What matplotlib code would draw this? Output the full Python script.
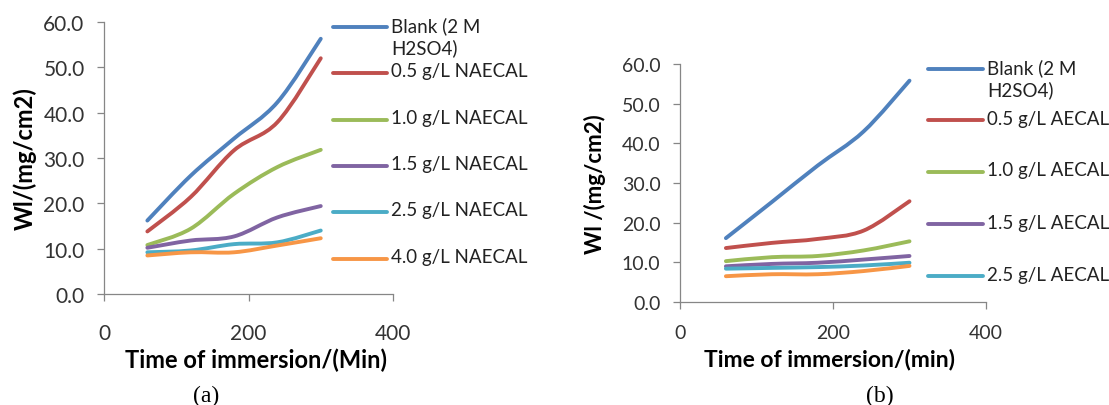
import numpy as np
import matplotlib
matplotlib.use("Agg")
import matplotlib.pyplot as plt
from matplotlib.path import Path
from matplotlib.patches import PathPatch
from matplotlib.lines import Line2D
from matplotlib.ticker import FormatStrFormatter

# data
time_min = [60, 120, 180, 240, 300]

a_blank = [16.2, 26.1, 34.3, 42.3, 56.3]
a_05 = [13.8, 21.4, 31.7, 37.9, 52.0]
a_10 = [10.8, 14.4, 22.1, 28.0, 31.8]
a_15 = [10.2, 11.8, 12.7, 16.9, 19.4]
a_25 = [9.2, 9.6, 11.0, 11.4, 14.0]
a_40 = [8.5, 9.2, 9.2, 10.7, 12.3]

b_blank = [16.1, 25.2, 34.4, 43.0, 55.8]
b_05 = [13.6, 14.9, 15.9, 18.0, 25.4]
b_10 = [10.3, 11.3, 11.6, 13.0, 15.3]
b_15 = [9.0, 9.6, 9.9, 10.7, 11.6]
b_25 = [8.4, 8.6, 8.8, 9.2, 9.9]
b_40 = [6.5, 7.0, 7.0, 7.8, 9.1]

a_labels = ["Blank (2 M\nH2SO4)", "0.5 g/L NAECAL", "1.0 g/L NAECAL",
            "1.5 g/L NAECAL", "2.5 g/L NAECAL", "4.0 g/L NAECAL"]
b_labels = ["Blank (2 M\nH2SO4)", "0.5 g/L AECAL", "1.0 g/L AECAL",
            "1.5 g/L AECAL", "2.5 g/L AECAL"]

colors = ['#4F81BD', '#C0504D', '#9BBB59', '#8064A2', '#4BACC6', '#F79646']

W, H = 1109, 406
FONT = ['Lato', 'DejaVu Sans']
plt.rcParams['font.family'] = FONT


def smooth_line(ax, xs, ys, color):
    # excel-like smoothed line: cubic bezier through the points
    p = np.column_stack([xs, ys]).astype(float)
    n = len(p)
    verts = [p[0]]
    codes = [Path.MOVETO]
    for i in range(n - 1):
        p0 = p[i - 1] if i > 0 else p[i]
        p1 = p[i]
        p2 = p[i + 1]
        p3 = p[i + 2] if i + 2 < n else p[i + 1]
        c1 = p1 + (p2 - p0) / 6.0
        c2 = p2 - (p3 - p1) / 6.0
        verts += [c1, c2, p2]
        codes += [Path.CURVE4] * 3
    patch = PathPatch(Path(verts, codes), fill=False, edgecolor=color,
                      linewidth=2.8, capstyle='round', joinstyle='round')
    ax.add_patch(patch)


def style_axis(ax, tick_size, ypad, xpad):
    ax.set_xlim(0, 400)
    ax.set_ylim(0, 60)
    ax.set_xticks([0, 200, 400])
    ax.set_yticks([0, 10, 20, 30, 40, 50, 60])
    ax.yaxis.set_major_formatter(FormatStrFormatter('%.1f'))
    for s in ['top', 'right']:
        ax.spines[s].set_visible(False)
    for s in ['left', 'bottom']:
        ax.spines[s].set_color('#868686')
        ax.spines[s].set_linewidth(0.9)
    ax.tick_params(axis='both', direction='out', length=5, width=0.9,
                   color='#868686', labelcolor='#333333', labelsize=tick_size)
    ax.tick_params(axis='y', pad=ypad)
    ax.tick_params(axis='x', pad=xpad)
    ax.patch.set_alpha(0)


def draw_legend(fig, labels, x0, x1, ys, size, line_gap):
    for lab, col, y in zip(labels, colors, ys):
        fy = 1 - y / H
        fig.add_artist(Line2D([x0 / W, x1 / W], [fy, fy], color=col,
                              linewidth=2.8, solid_capstyle='round'))
        fig.text((x1 + 4) / W, fy, lab, fontsize=size, color='#222222',
                 va='top', ha='left', linespacing=line_gap,
                 transform=fig.transFigure,
                 bbox=None).set_y(fy + 10.5 / H)


fig = plt.figure(figsize=(W / 100, H / 100), dpi=100)

ax1 = fig.add_axes([104 / W, 1 - 295 / H, 289 / W, 272 / H])
ax2 = fig.add_axes([680 / W, 1 - 303 / H, 306 / W, 238 / H])

for ys, col in zip([a_blank, a_05, a_10, a_15, a_25, a_40], colors):
    smooth_line(ax1, time_min, ys, col)
for ys, col in zip([b_blank, b_05, b_10, b_15, b_25, b_40], colors):
    smooth_line(ax2, time_min, ys, col)

style_axis(ax1, 15, 9, 16)
style_axis(ax2, 14, 9, 11)

ax1.set_ylabel('Wl/(mg/cm2)', fontsize=17, fontweight='bold')
ax1.yaxis.set_label_coords((25 - 104) / 289, 0.5)
ax1.set_xlabel('Time of immersion/(Min)', fontsize=17, fontweight='bold')
ax1.xaxis.set_label_coords((256 - 104) / 289, (295 - 360) / 272)
ax1.xaxis.label.set_va('center')
ax1.yaxis.label.set_va('center')

ax2.set_ylabel('Wl /(mg/cm2)', fontsize=16, fontweight='bold')
ax2.yaxis.set_label_coords((595 - 680) / 306, 0.5)
ax2.set_xlabel('Time of immersion/(min)', fontsize=16.5, fontweight='bold')
ax2.xaxis.set_label_coords((830 - 680) / 306, (303 - 360) / 238)
ax2.xaxis.label.set_va('center')
ax2.yaxis.label.set_va('center')

draw_legend(fig, a_labels, 333, 387, [28, 74, 120.5, 167, 213, 260], 13.5, 1.25)
draw_legend(fig, b_labels, 928, 983, [70, 121, 173, 225, 277], 13.5, 1.25)

fig.text(206 / W, 1 - 396 / H, '(a)', fontsize=17, family='Liberation Serif',
         ha='center', va='center')
fig.text(880 / W, 1 - 396 / H, '(b)', fontsize=17, family='Liberation Serif',
         ha='center', va='center')

fig.savefig('out.png', dpi=100)
